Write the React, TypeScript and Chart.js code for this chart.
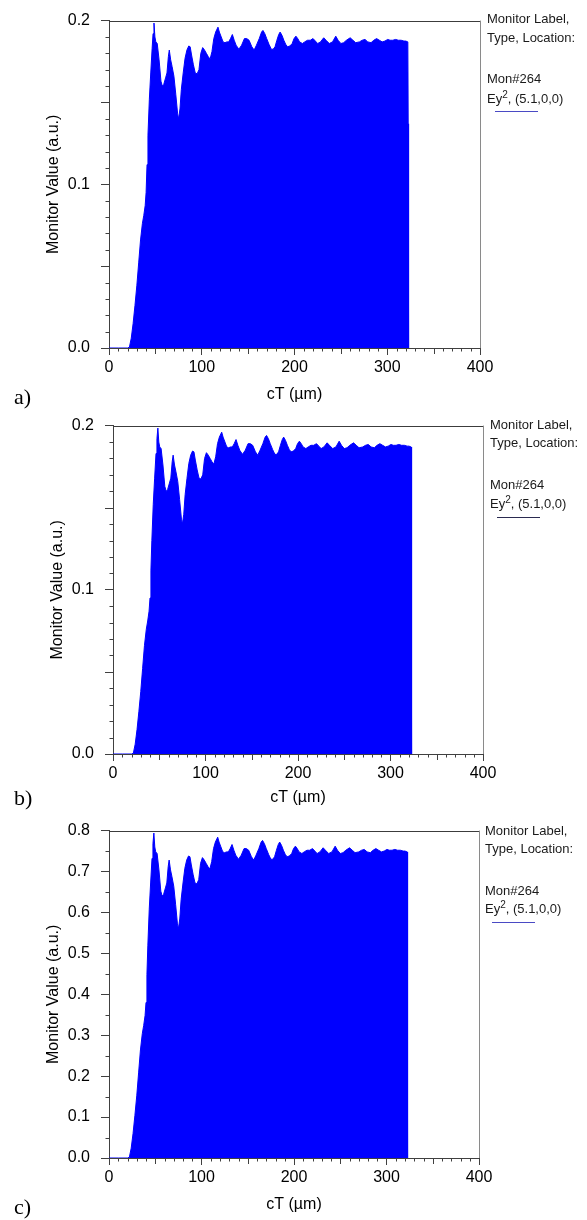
import React, { useEffect, useRef } from 'react';
import { Chart, registerables } from 'chart.js';

Chart.register(...registerables);

const SANS = '"Liberation Sans", Arial, sans-serif';
const SERIF = '"Liberation Serif", "Times New Roman", serif';

// cT positions (µm)
const cT: number[] = [
  0, 10, 20, 22, 24, 26, 28, 30, 32, 34, 36, 37.5, 39, 40, 41, 42, 43.5, 45, 46.5, 47.5,
  48.5, 49.5, 50.5, 52, 54, 56, 57.5, 59, 61, 62.5, 64, 65, 66.5, 68, 70, 72, 74, 75, 76.5, 78,
  80, 82, 84, 86, 87.5, 89, 91, 93, 95, 97, 99, 101, 103, 105, 107, 109, 111, 113, 115, 117.5,
  119, 121, 123, 125, 127, 129, 131, 133, 135, 137, 140, 143, 146, 148.5, 151, 154, 156.5, 159, 162, 164.5,
  166, 168, 170, 172.5, 175, 177, 179, 181, 183, 184.5, 186.5, 188.5, 190.5, 192.5, 195, 197.5, 199.5, 201.5, 203.5, 205.5,
  208.5, 211, 214, 217, 220, 222.5, 225, 228, 231.5, 234, 237.5, 241, 244.5, 247, 250, 253, 256, 260, 263, 266,
  270, 273, 276, 279, 282.5, 285.5, 288.5, 291.5, 294.5, 297.5, 300.5, 303, 306, 309, 312, 315, 318, 320, 322.2, 322.6,
  323,
];

// Panel a) monitor values (a.u.)
const monitorA: number[] = [
  0, 0, 0, 0.0005, 0.006, 0.015, 0.026, 0.038, 0.052, 0.066, 0.076, 0.081, 0.087, 0.095, 0.112, 0.13, 0.152, 0.168, 0.183, 0.192,
  0.1985, 0.19, 0.187, 0.186, 0.176, 0.163, 0.16, 0.161, 0.165, 0.168, 0.178, 0.182, 0.176, 0.172, 0.166, 0.155, 0.143, 0.14, 0.146, 0.158,
  0.168, 0.177, 0.182, 0.1845, 0.184, 0.179, 0.173, 0.168, 0.1675, 0.17, 0.18, 0.1835, 0.182, 0.18, 0.178, 0.1765, 0.181, 0.189, 0.193, 0.196,
  0.193, 0.19, 0.187, 0.1865, 0.187, 0.187, 0.189, 0.1915, 0.188, 0.185, 0.1825, 0.185, 0.189, 0.189, 0.188, 0.184, 0.182, 0.185, 0.189, 0.193,
  0.194, 0.192, 0.189, 0.1855, 0.1825, 0.1825, 0.184, 0.188, 0.1915, 0.193, 0.191, 0.188, 0.1855, 0.184, 0.1845, 0.186, 0.189, 0.1905, 0.189, 0.187,
  0.186, 0.187, 0.188, 0.188, 0.189, 0.1875, 0.186, 0.187, 0.1895, 0.188, 0.186, 0.187, 0.1905, 0.188, 0.186, 0.1865, 0.188, 0.1895, 0.188, 0.1865,
  0.187, 0.188, 0.1885, 0.187, 0.1865, 0.188, 0.189, 0.188, 0.187, 0.1875, 0.1885, 0.188, 0.188, 0.1885, 0.188, 0.188, 0.1875, 0.1875, 0.187, 0.137,
  0,
];

// Panel b) monitor values (a.u.)
const monitorB: number[] = [
  0, 0, 0, 0.0005, 0.006, 0.015, 0.026, 0.038, 0.052, 0.066, 0.076, 0.081, 0.087, 0.095, 0.112, 0.13, 0.152, 0.168, 0.183, 0.192,
  0.1985, 0.19, 0.187, 0.186, 0.176, 0.163, 0.16, 0.161, 0.165, 0.168, 0.178, 0.182, 0.176, 0.172, 0.166, 0.155, 0.143, 0.14, 0.146, 0.158,
  0.168, 0.177, 0.182, 0.1845, 0.184, 0.179, 0.173, 0.168, 0.1675, 0.17, 0.18, 0.1835, 0.182, 0.18, 0.178, 0.1765, 0.181, 0.189, 0.193, 0.196,
  0.193, 0.19, 0.187, 0.1865, 0.187, 0.187, 0.189, 0.1915, 0.188, 0.185, 0.1825, 0.185, 0.189, 0.189, 0.188, 0.184, 0.182, 0.185, 0.189, 0.193,
  0.194, 0.192, 0.189, 0.1855, 0.1825, 0.1825, 0.184, 0.188, 0.1915, 0.193, 0.191, 0.188, 0.1855, 0.184, 0.1845, 0.186, 0.189, 0.1905, 0.189, 0.187,
  0.186, 0.187, 0.188, 0.188, 0.189, 0.1875, 0.186, 0.187, 0.1895, 0.188, 0.186, 0.187, 0.1905, 0.188, 0.186, 0.1865, 0.188, 0.1895, 0.188, 0.1865,
  0.187, 0.188, 0.1885, 0.187, 0.1865, 0.188, 0.189, 0.188, 0.187, 0.1875, 0.1885, 0.188, 0.188, 0.1885, 0.188, 0.188, 0.1875, 0.1875, 0.187, 0.137,
  0,
];

// Panel c) monitor values (a.u.)
const monitorC: number[] = [
  0, 0, 0, 0.002, 0.024, 0.06, 0.104, 0.152, 0.208, 0.264, 0.304, 0.324, 0.348, 0.38, 0.448, 0.52, 0.608, 0.672, 0.732, 0.768,
  0.794, 0.76, 0.748, 0.744, 0.704, 0.652, 0.64, 0.644, 0.66, 0.672, 0.712, 0.728, 0.704, 0.688, 0.664, 0.62, 0.572, 0.56, 0.584, 0.632,
  0.672, 0.708, 0.728, 0.738, 0.736, 0.716, 0.692, 0.672, 0.67, 0.68, 0.72, 0.734, 0.728, 0.72, 0.712, 0.706, 0.724, 0.756, 0.772, 0.784,
  0.772, 0.76, 0.748, 0.746, 0.748, 0.748, 0.756, 0.766, 0.752, 0.74, 0.73, 0.74, 0.756, 0.756, 0.752, 0.736, 0.728, 0.74, 0.756, 0.772,
  0.776, 0.768, 0.756, 0.742, 0.73, 0.73, 0.736, 0.752, 0.766, 0.772, 0.764, 0.752, 0.742, 0.736, 0.738, 0.744, 0.756, 0.762, 0.756, 0.748,
  0.744, 0.748, 0.752, 0.752, 0.756, 0.75, 0.744, 0.748, 0.758, 0.752, 0.744, 0.748, 0.762, 0.752, 0.744, 0.746, 0.752, 0.758, 0.752, 0.746,
  0.748, 0.752, 0.754, 0.748, 0.746, 0.752, 0.756, 0.752, 0.748, 0.75, 0.754, 0.752, 0.752, 0.754, 0.752, 0.752, 0.75, 0.75, 0.748, 0.548,
  0,
];

const xTicks: number[] = [0, 100, 200, 300, 400];
const yTicksAB: number[] = [0, 0.1, 0.2];
const yTicksC: number[] = [0, 0.1, 0.2, 0.3, 0.4, 0.5, 0.6, 0.7, 0.8];

const legendTitle = ['Monitor Label,', 'Type, Location:'];
const legendMon = 'Mon#264';
const legendLoc = ', (5.1,0,0)';

type Panel = {
  key: string;
  label: string;
  top: number;
  height: number;
  left: number;
  right: number;
  plotTop: number;
  plotBottom: number;
  yMax: number;
  yTicks: number[];
  yStep: number;
  yMidEvery: number;
  yMajorEvery: number;
  values: number[];
  yTitleX: number;
  xTitleY: number;
  legendX: number;
  legendY: number[];
  lineY: number;
  lineX: [number, number];
  lineColor: string;
  labelY: number;
};

const panels: Panel[] = [
  {
    key: 'a', label: 'a)', top: 0, height: 405, left: 109, right: 480, plotTop: 13.5, plotBottom: 348,
    yMax: 0.2, yTicks: yTicksAB, yStep: 0.01, yMidEvery: 5, yMajorEvery: 10, values: monitorA,
    yTitleX: 54, xTitleY: 395, legendX: 487, legendY: [19, 38, 79, 99], lineY: 111, lineX: [495, 538],
    lineColor: '#4a4ac4', labelY: 397,
  },
  {
    key: 'b', label: 'b)', top: 405, height: 405, left: 113, right: 483, plotTop: 420, plotBottom: 754,
    yMax: 0.2, yTicks: yTicksAB, yStep: 0.01, yMidEvery: 5, yMajorEvery: 10, values: monitorB,
    yTitleX: 58, xTitleY: 798, legendX: 490, legendY: [425, 443, 485, 504], lineY: 517, lineX: [497, 540],
    lineColor: '#2a2a50', labelY: 798,
  },
  {
    key: 'c', label: 'c)', top: 810, height: 410, left: 109, right: 479, plotTop: 825, plotBottom: 1158,
    yMax: 0.8, yTicks: yTicksC, yStep: 0.05, yMidEvery: 0, yMajorEvery: 2, values: monitorC,
    yTitleX: 54, xTitleY: 1205, legendX: 485, legendY: [831, 849, 891, 909], lineY: 922, lineX: [492, 535],
    lineColor: '#4a4ac4', labelY: 1207,
  },
];

const framePlugin = {
  id: 'frame',
  afterDraw(chart: any, _args: any, opts: any) {
    const { ctx, chartArea, scales } = chart;
    const { left, right, top, bottom } = chartArea;
    const xs = scales.x;
    const ys = scales.y;
    ctx.save();
    ctx.lineWidth = 1;
    // top border
    ctx.strokeStyle = '#3c3c3c';
    ctx.beginPath();
    ctx.moveTo(left, Math.round(top) + 0.5);
    ctx.lineTo(right + 1, Math.round(top) + 0.5);
    ctx.stroke();
    // right border
    ctx.strokeStyle = '#8a8a8a';
    ctx.beginPath();
    ctx.moveTo(Math.round(right) + 0.5, top);
    ctx.lineTo(Math.round(right) + 0.5, bottom);
    ctx.stroke();
    // x minor ticks
    ctx.strokeStyle = '#404040';
    ctx.beginPath();
    for (let i = 0; i <= 40; i++) {
      if (i % 10 === 0) continue;
      const px = Math.round(xs.getPixelForValue(i * 10)) + 0.5;
      const len = i % 5 === 0 ? 6 : 3.5;
      ctx.moveTo(px, bottom);
      ctx.lineTo(px, bottom + len);
    }
    // y minor ticks
    const n = Math.round(opts.yMax / opts.yStep);
    for (let i = 0; i <= n; i++) {
      if (i % opts.yMajorEvery === 0) continue;
      const py = Math.round(ys.getPixelForValue(i * opts.yStep)) + 0.5;
      const len = opts.yMidEvery && i % opts.yMidEvery === 0 ? 8 : 3.5;
      ctx.moveTo(left - len, py);
      ctx.lineTo(left, py);
    }
    ctx.stroke();
    ctx.restore();
  },
};

function PanelChart({ p }: { p: Panel }) {
  const ref = useRef<HTMLCanvasElement | null>(null);
  useEffect(() => {
    if (!ref.current) return;
    const W = 587;
    const H = p.height;
    const localBottom = p.plotBottom - p.top;
    const chart = new Chart(ref.current, {
      type: 'line',
      data: {
        datasets: [
          {
            data: cT.map((x, i) => ({ x, y: p.values[i] })),
            fill: 'origin',
            backgroundColor: '#0000ff',
            borderColor: '#0000ff',
            borderWidth: 1,
            pointRadius: 0,
            tension: 0,
          },
        ],
      },
      options: {
        responsive: false,
        animation: false,
        devicePixelRatio: 1,
        layout: { padding: { left: 0, right: W - p.right, top: p.plotTop - p.top, bottom: 0 } },
        plugins: {
          legend: { display: false },
          tooltip: { enabled: false },
          frame: { yMax: p.yMax, yStep: p.yStep, yMidEvery: p.yMidEvery, yMajorEvery: p.yMajorEvery },
        } as any,
        scales: {
          x: {
            type: 'linear',
            min: 0,
            max: 400,
            afterBuildTicks: (s: any) => {
              s.ticks = xTicks.map((v) => ({ value: v }));
            },
            afterFit: (s: any) => {
              s.height = H - localBottom;
            },
            ticks: {
              color: '#000',
              font: { family: SANS, size: 16 },
              padding: 3,
              maxRotation: 0,
              autoSkip: false,
              callback: (v: any) => String(v),
            },
            grid: { drawOnChartArea: false, tickLength: 7, color: '#404040' },
            border: { color: '#404040' },
            title: {
              display: true,
              text: 'cT (µm)',
              color: '#000',
              font: { family: SANS, size: 16 },
              padding: { top: 0, bottom: H - (p.xTitleY - p.top) - 9.6 },
            },
          },
          y: {
            type: 'linear',
            min: 0,
            max: p.yMax,
            afterBuildTicks: (s: any) => {
              s.ticks = p.yTicks.map((v) => ({ value: v }));
            },
            afterFit: (s: any) => {
              s.width = p.left;
            },
            ticks: {
              color: '#000',
              font: { family: SANS, size: 16 },
              padding: 11,
              autoSkip: false,
              callback: (v: any) => Number(v).toFixed(1),
            },
            grid: { drawOnChartArea: false, tickLength: 8, color: '#404040' },
            border: { color: '#404040' },
            title: {
              display: true,
              text: 'Monitor Value (a.u.)',
              color: '#000',
              font: { family: SANS, size: 16 },
              padding: { top: p.yTitleX - 9.6, bottom: 0 },
            },
          },
        },
      } as any,
      plugins: [framePlugin as any],
    });
    return () => chart.destroy();
  }, [p]);

  const textStyle = (y: number): React.CSSProperties => ({
    position: 'absolute',
    left: p.legendX,
    top: y - 8,
    height: 16,
    lineHeight: '16px',
    fontFamily: SANS,
    fontSize: 13,
    color: '#1a1a1a',
    whiteSpace: 'nowrap',
  });

  return (
    <>
      <canvas
        ref={ref}
        width={587}
        height={p.height}
        style={{ position: 'absolute', left: 0, top: p.top, width: 587, height: p.height }}
      />
      <div style={textStyle(p.legendY[0])}>{legendTitle[0]}</div>
      <div style={textStyle(p.legendY[1])}>{legendTitle[1]}</div>
      <div style={textStyle(p.legendY[2])}>{legendMon}</div>
      <div style={textStyle(p.legendY[3])}>
        Ey<sup style={{ fontSize: 10, lineHeight: 0, verticalAlign: 'super' }}>2</sup>
        {legendLoc}
      </div>
      <div
        style={{
          position: 'absolute',
          left: p.lineX[0],
          top: p.lineY,
          width: p.lineX[1] - p.lineX[0],
          height: 0,
          borderTop: `1px solid ${p.lineColor}`,
        }}
      />
      <div
        style={{
          position: 'absolute',
          left: 14,
          top: p.labelY - 13,
          height: 26,
          lineHeight: '26px',
          fontFamily: SERIF,
          fontSize: 22,
          color: '#000',
        }}
      >
        {p.label}
      </div>
    </>
  );
}

export default function App() {
  return (
    <div style={{ position: 'absolute', left: 0, top: 0, width: 587, height: 1220, background: '#fff', overflow: 'hidden' }}>
      {panels.map((p) => (
        <PanelChart key={p.key} p={p} />
      ))}
    </div>
  );
}
